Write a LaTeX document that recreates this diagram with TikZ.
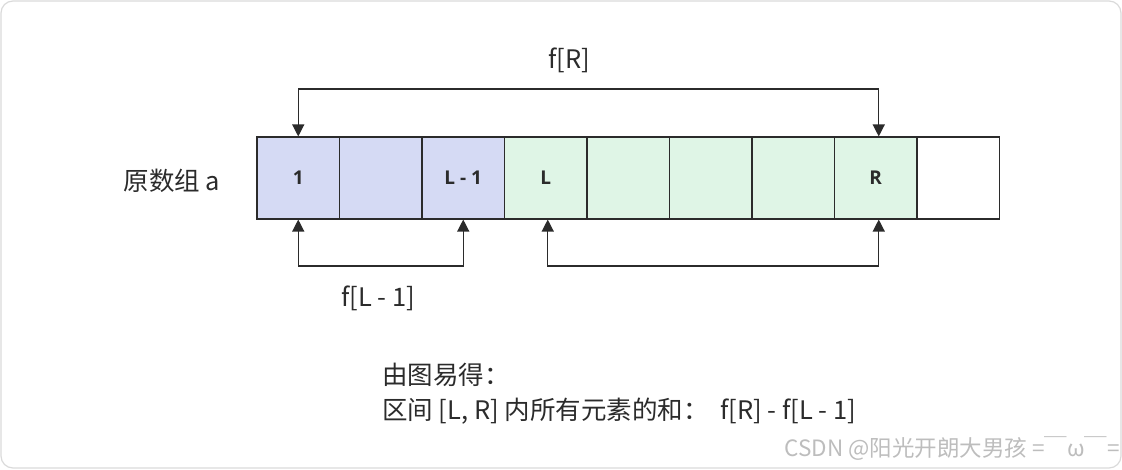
\documentclass[tikz,border=0pt]{standalone}
\usepackage{fontspec}
\setmainfont{Noto Sans CJK SC}
\newfontfamily\latinbold{Open Sans}
\usetikzlibrary{arrows.meta,calc}
\definecolor{cellblue}{HTML}{D5DAF4}
\definecolor{cellgreen}{HTML}{DFF5E6}
\definecolor{linecol}{HTML}{2B2B2B}
\definecolor{framecol}{HTML}{DADADA}
\definecolor{wmcol}{HTML}{BDBDBD}
\tikzset{
  cell/.style={draw=linecol, line width=1.1pt, minimum width=82.5pt, minimum height=82pt, inner sep=0pt, font=\latinbold\bfseries\fontsize{19}{21}\selectfont, text=linecol},
  conn/.style={draw=linecol, line width=1.3pt, {Triangle[width=12pt,length=12pt]}-{Triangle[width=12pt,length=12pt]}},
  lbl/.style={font=\fontsize{25.5}{28}\selectfont, text=linecol, inner sep=0pt},
}
\begin{document}
\begin{tikzpicture}[x=1pt,y=-1pt]
\useasboundingbox (0,0) rectangle (1122,469);
\draw[framecol, line width=1.2pt, rounded corners=12pt] (1,1) rectangle (1121,468);
% cells
\node[cell, fill=cellblue]  (c1) at (298.25,178) {1};
\node[cell, fill=cellblue]  (c2) at (380.75,178) {};
\node[cell, fill=cellblue]  (c3) at (463.25,178) {L - 1};
\node[cell, fill=cellgreen] (c4) at (545.75,178) {L};
\node[cell, fill=cellgreen] (c5) at (628.25,178) {};
\node[cell, fill=cellgreen] (c6) at (710.75,178) {};
\node[cell, fill=cellgreen] (c7) at (793.25,178) {};
\node[cell, fill=cellgreen] (c8) at (875.75,178) {R};
\node[cell, fill=white]     (c9) at (958.25,178) {};
% connectors
\coordinate (top) at (0,89);
\coordinate (bot) at (0,266);
\draw[conn] (c1.north) -- (c1.north |- top) -- ($(c8.north |- top)+(3,0)$) -- ($(c8.north)+(3,0)$);
\draw[conn] (c1.south) -- (c1.south |- bot) -- (c3.south |- bot) -- (c3.south);
\draw[conn] ($(c4.south)+(2,0)$) -- ($(c4.south |- bot)+(2,0)$) -- ($(c8.south |- bot)+(3,0)$) -- ($(c8.south)+(3,0)$);
% labels
\node[lbl] (fr) at (569,60) {f[R]};
\node[lbl] (fl) at (378,298) {f[L - 1]};
\node[lbl] (arr) at (172,181) {原数组 a};
\node[lbl, anchor=west] (t1) at (382,375) {由图易得：};
\node[lbl, anchor=west] (t2) at (382,411) {区间 [L, R] 内所有元素的和：\ \ f[R] - f[L - 1]};
\node[font=\fontsize{22.5}{25}\selectfont, text=wmcol, anchor=east, inner sep=0pt] (wm) at (1120,449) {CSDN @阳光开朗大男孩 =￣ω￣=};
\end{tikzpicture}
\end{document}
